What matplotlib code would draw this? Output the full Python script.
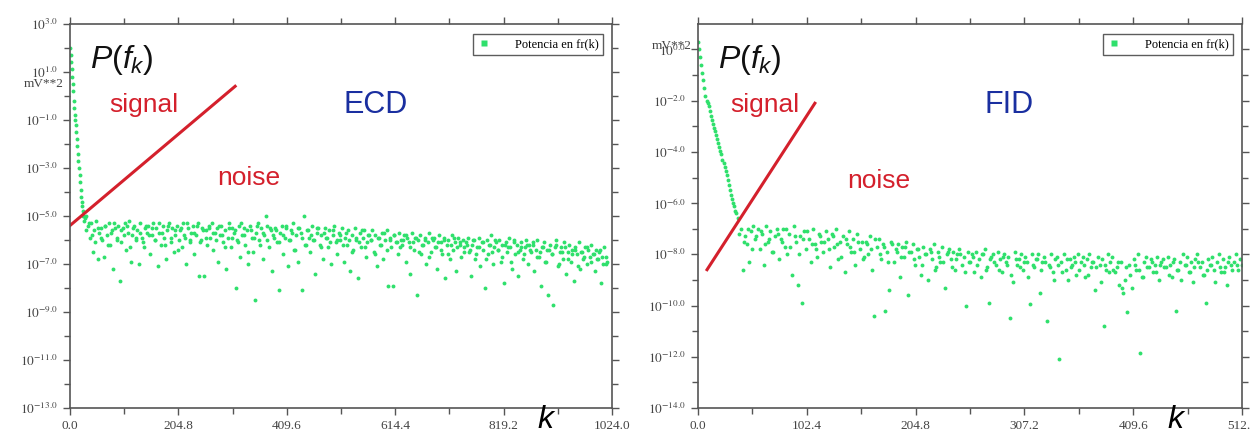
import numpy as np
import matplotlib
matplotlib.use('Agg')
from matplotlib import pyplot as plt
from matplotlib.ticker import FixedLocator, FixedFormatter
from matplotlib.lines import Line2D

plt.rcParams['mathtext.fontset'] = 'stix'
plt.rcParams['mathtext.it'] = 'Liberation Sans:italic'
plt.rcParams['mathtext.rm'] = 'Liberation Sans'

# ---------------------------------------------------------------
# Data (log10 of power, mV**2)
# ---------------------------------------------------------------
# ECD: steep decay near k=0, then noise band
ecd_decay_k = [0, 1, 2, 3, 4, 5, 6, 7, 8, 9, 10, 11, 12, 13, 14,
               15, 16, 17, 18, 19, 20, 21, 22, 23, 24, 25, 26]
ecd_decay_log = [2.0, 1.7, 1.4, 1.1, 0.8, 0.5, 0.2, -0.2, -0.5, -0.8,
                 -1.0, -1.2, -1.5, -1.8, -2.1, -2.4, -2.7, -3.0, -3.3,
                 -3.6, -3.9, -4.2, -4.4, -4.6, -4.8, -5.0, -5.2]
# band a: every 3rd k from 28
ecd_band_k0, ecd_band_step = 28, 3
ecd_band_log = [
    -5.1, -5.0, -5.4, -5.9, -5.3, -6.5, -5.6, -5.2, -6.8, -5.7, -5.5, -6.0, -6.7, -5.4, -5.8, -5.3, -6.2, -5.6, -7.2, -5.5,
    -5.9, -5.4, -7.7, -6.1, -5.5, -5.3, -6.4, -5.7, -5.2, -6.9, -5.8, -5.4, -6.0, -5.6, -7.0, -5.3, -5.9, -6.3, -5.5, -5.7,
    -5.4, -6.6, -5.8, -5.3, -6.0, -5.5, -7.1, -5.7, -6.2, -5.4, -5.9, -6.8, -5.6, -5.3, -6.1, -5.5, -6.5, -5.8, -5.4, -6.0,
    -5.6, -6.3, -5.3, -5.9, -7.0, -5.5, -6.1, -5.7, -5.4, -6.6, -5.8, -5.3, -7.5, -6.0, -5.5, -7.5, -5.6, -6.2, -5.4, -5.9,
    -5.3, -6.4, -5.7, -5.5, -6.9, -5.8, -5.4, -6.1, -5.6, -7.2, -5.9, -5.3, -6.3, -5.5, -5.7, -8.0, -6.0, -5.4, -6.7, -5.8,
    -5.5, -6.2, -5.6, -7.0, -5.4, -5.9, -6.5, -8.5, -5.7, -5.3, -6.0, -5.5, -6.8, -5.8, -5.0, -5.4, -6.3, -5.6, -7.3, -5.9,
    -5.5, -6.1, -8.1, -5.7, -5.4, -6.6, -5.9, -5.5, -7.1, -6.0, -5.6, -5.3, -6.4, -5.8, -6.9, -5.5, -5.7, -8.1, -5.0, -6.2,
    -5.6, -5.9, -6.5, -5.4, -6.0, -7.4, -5.7, -5.5, -6.2, -5.8, -6.8, -5.5, -5.9, -6.3, -5.6, -7.0, -5.8, -5.4, -6.1, -6.6,
    -5.7, -6.0, -5.5, -6.9, -5.9, -6.2, -5.6, -7.3, -5.8, -6.4, -5.5, -6.0, -7.6, -5.7, -6.3, -5.9, -5.6, -6.7, -6.1, -5.8,
    -6.0, -5.6, -6.5, -5.8, -7.1, -5.9, -6.2, -5.7, -6.8, -6.0, -5.6, -7.9, -5.9, -6.3, -7.9, -5.8, -6.1, -6.6, -5.7, -6.0,
    -6.2, -5.8, -6.9, -5.9, -6.1, -7.4, -5.7, -6.4, -5.9, -8.3, -6.0, -5.8, -6.6, -6.2, -5.9, -7.0, -6.1, -5.7, -6.5, -6.0,
    -5.9, -6.3, -7.2, -5.8, -6.1, -6.6, -5.9, -7.6, -6.2, -6.0, -6.8, -5.8, -6.4, -6.1, -7.3, -5.9, -6.2, -6.7, -6.0, -6.3,
    -6.1, -5.9, -6.5, -7.5, -6.2, -6.0, -6.8, -6.3, -5.9, -7.1, -6.1, -6.4, -8.0, -6.0, -6.6, -6.2, -5.8, -7.0, -6.3, -6.1,
    -6.4, -6.0, -6.9, -6.2, -7.8, -6.1, -6.5, -5.9, -6.3, -7.2, -6.0, -6.6, -6.2, -7.5, -6.4, -6.1, -6.8, -6.3, -6.0, -7.0,
    -6.2, -6.5, -6.1, -7.3, -6.4, -6.0, -6.7, -7.9, -6.3, -6.1, -6.9, -6.4, -8.3, -6.2, -6.6, -8.7, -6.3, -6.0, -7.1, -6.5,
    -6.3, -6.8, -6.1, -7.4, -6.5, -6.2, -6.9, -6.4, -7.7, -6.3, -6.6, -6.1, -7.2, -6.5, -6.8, -6.3, -7.0, -6.4, -6.7, -6.2,
    -6.6, -7.3, -6.4, -6.8, -6.5, -7.8, -6.7, -6.3, -7.0, -6.9,
]
# band b: every 6th k from 29.5 (dense core of the band)
ecd_band2_k0, ecd_band2_step = 29.5, 6
ecd_band2_log = [
    -5.6, -5.3, -5.8, -6.1, -5.5, -5.9, -5.4, -6.2, -5.7, -5.3, -6.0, -5.6, -5.8, -5.4, -6.3, -5.5, -5.9, -5.7, -6.1, -5.4,
    -5.8, -5.5, -6.0, -5.3, -5.7, -6.2, -5.4, -5.9, -5.6, -6.4, -5.5, -5.8, -5.3, -6.0, -5.7, -5.4, -6.1, -5.6, -5.9, -5.5,
    -5.7, -6.0, -5.4, -5.8, -6.3, -5.5, -5.9, -5.6, -6.1, -5.3, -5.8, -6.5, -5.6, -5.9, -5.4, -6.2, -5.7, -6.0, -5.5, -5.8,
    -5.6, -6.1, -5.8, -5.4, -6.0, -5.7, -6.4, -5.5, -5.9, -6.2, -5.6, -5.8, -6.0, -5.5, -6.3, -5.7, -5.9, -6.1, -5.6, -6.0,
    -5.8, -6.2, -5.7, -6.0, -6.5, -5.9, -6.1, -5.6, -6.3, -5.8, -6.0, -6.6, -5.9, -6.2, -5.7, -6.4, -6.0, -5.8, -6.1, -6.3,
    -6.0, -5.8, -6.3, -6.1, -5.9, -6.5, -6.2, -6.0, -6.7, -5.9, -6.3, -6.1, -6.4, -6.0, -6.6, -6.2, -5.9, -6.3, -6.1, -6.5,
    -6.2, -6.4, -6.0, -6.6, -6.3, -6.1, -6.8, -6.2, -6.5, -6.0, -6.4, -6.7, -6.2, -6.3, -6.9, -6.1, -6.5, -6.3, -6.6, -6.2,
    -6.4, -6.2, -6.7, -6.5, -6.3, -6.9, -6.4, -6.6, -6.2, -7.0, -6.5, -6.3, -6.8, -6.6, -6.4, -7.1, -6.5, -6.7, -6.3, -6.9,
    -6.6, -6.8, -6.4, -7.0, -6.7,
]

# FID: decay, then noise band
fid_decay_k = [0, 1, 2, 3, 4, 5, 6, 7, 8, 9, 10, 11, 12, 13, 14, 15, 16,
               17, 18, 19, 20, 21, 22, 23, 24, 25, 26, 27, 28, 29, 30,
               31, 32, 33, 34, 35, 36]
fid_decay_log = [0.3, 0.0, -0.3, -0.6, -0.9, -1.2, -1.5, -1.8, -2.0, -2.1,
                 -2.2, -2.4, -2.6, -2.75, -2.9, -3.05, -3.2, -3.35, -3.5,
                 -3.65, -3.8, -3.95, -4.1, -4.3, -4.45, -4.6, -4.75, -4.9,
                 -5.1, -5.3, -5.5, -5.7, -5.85, -6.0, -6.1, -6.3, -6.4]
# band a: every 2nd k from 38
fid_band_k0, fid_band_step = 38, 2
fid_band_log = [
    -6.6, -7.0, -8.6, -7.3, -7.6, -8.3, -7.1, -6.9, -7.4, -7.0, -7.8, -7.2, -8.4, -6.9, -7.5, -7.1, -7.9, -7.3, -7.0, -8.2,
    -7.4, -7.0, -7.7, -8.0, -7.2, -8.8, -6.9, -7.5, -9.2, -7.3, -9.9, -7.1, -7.8, -7.4, -8.3, -7.0, -7.6, -8.1, -7.2, -7.5,
    -7.9, -7.1, -7.4, -8.5, -7.2, -7.7, -7.0, -8.2, -7.5, -7.3, -8.7, -7.6, -7.1, -7.9, -7.4, -8.4, -7.2, -7.8, -7.5, -8.1,
    -7.5, -8.0, -7.3, -8.6, -10.4, -7.7, -7.4, -8.2, -7.6, -10.2, -7.9, -9.4, -7.5, -8.3, -7.8, -7.6, -8.9, -7.7, -8.1, -7.5,
    -9.6, -7.9, -7.6, -8.4, -7.8, -8.1, -8.8, -7.7, -8.0, -9.0, -7.8, -8.2, -7.6, -8.5, -7.9, -8.3, -7.7, -9.3, -8.0, -7.8,
    -8.2, -7.9, -8.6, -8.0, -7.8, -8.4, -8.1, -10.0, -7.9, -8.3, -8.0, -8.7, -7.9, -8.2, -8.9, -8.0, -7.8, -8.5, -9.9, -8.1,
    -8.0, -8.4, -7.9, -8.2, -8.7, -8.0, -8.3, -8.1, -10.5, -9.1, -7.9, -8.4, -8.2, -8.0, -8.6, -8.1, -8.3, -9.95, -8.0, -8.5,
    -8.2, -8.0, -9.5, -8.3, -8.1, -10.6, -8.4, -8.0, -8.7, -8.2, -8.1, -12.1, -8.3, -8.0, -8.6, -9.0, -8.2, -8.4, -8.1, -8.8,
    -8.0, -8.3, -8.1, -8.9, -8.2, -8.0, -8.5, -8.3, -9.4, -8.1, -8.4, -8.2, -10.8, -8.6, -8.0, -8.3, -8.1, -8.7, -8.5, -9.2,
    -8.3, -9.5, -9.0, -10.25, -8.4, -9.3, -8.2, -8.6, -8.0, -11.85, -8.9, -8.3, -8.1, -8.5, -8.2, -8.7, -8.4, -8.1, -9.0, -8.3,
    -8.2, -8.5, -8.1, -8.4, -8.9, -8.2, -10.2, -8.6, -8.3, -8.0, -8.4, -8.1, -8.7, -8.3, -9.1, -8.2, -8.0, -8.5, -8.3, -8.8,
    -9.9, -8.2, -8.4, -8.1, -8.6, -8.3, -8.0, -8.7, -8.2, -8.5, -9.2, -8.1, -8.4, -8.3, -8.0, -8.6, -8.2, -8.4,
]
# band b: every 4th k from 39
fid_band2_k0, fid_band2_step = 39, 4
fid_band2_log = [
    -7.2, -7.5, -7.0, -7.8, -7.3, -7.1, -7.6, -7.4, -7.9, -7.2, -7.5, -7.0, -7.7, -7.3, -8.0, -7.4, -7.1, -7.6, -7.8, -7.3,
    -7.5, -7.8, -7.3, -7.6, -8.1, -7.4, -7.7, -7.9, -7.5, -8.2, -7.6, -7.8, -7.4, -8.0, -7.7, -8.3, -7.6, -7.9, -8.1, -7.7,
    -7.9, -8.2, -7.8, -8.4, -8.0, -7.9, -8.6, -8.1, -8.3, -7.9, -8.5, -8.2, -8.0, -8.7, -8.3, -8.1, -8.4, -8.0, -8.6, -8.2,
    -8.3, -8.6, -8.1, -8.4, -8.8, -8.2, -8.5, -8.3, -8.9, -8.4, -8.2, -8.6, -8.3, -8.5, -9.0, -8.4, -8.7, -8.2, -8.5, -8.3,
    -8.6, -8.4, -8.8, -8.3, -8.5, -9.1, -8.4, -8.7, -8.6, -8.3, -9.3, -8.5, -8.8, -8.4, -8.6, -8.9, -8.5, -8.3, -8.7, -8.4,
    -8.5, -8.8, -8.3, -8.6, -9.0, -8.4, -8.7, -8.5, -8.3, -8.8, -8.6, -8.4, -9.1, -8.5, -8.7, -8.3, -8.6, -8.4,
]

# hand-drawn "signal / noise" separating lines (k, log10 P)
ecd_line_k = [0, 312]
ecd_line_log = [-5.4, 0.4]
fid_line_k = [8.5, 110]
fid_line_log = [-8.6, -2.1]

ecd_xticks = [0.0, 204.8, 409.6, 614.4, 819.2, 1024.0]
fid_xticks = [0.0, 102.4, 204.8, 307.2, 409.6, 512.0]
ecd_ylog = [3, 1, -1, -3, -5, -7, -9, -11, -13]
fid_ylog = [0, -2, -4, -6, -8, -10, -12, -14]

green = '#2fe06c'
red = '#d4202c'
blue = '#1a2fa0'
axcol = '#555555'
serif = 'Liberation Serif'
sans = 'Liberation Sans'


def build(dk, dlog, bands):
    ks = [np.array(dk, float)]
    ls = [np.array(dlog, float)]
    for k0, step, vals in bands:
        ks.append(k0 + step * np.arange(len(vals)))
        ls.append(np.array(vals, float))
    return np.concatenate(ks), 10.0 ** np.concatenate(ls)


def style_axes(ax, xt, xmax, ylog, ymin, ymax):
    ax.set_yscale('log')
    ax.set_xlim(0, xmax)
    ax.set_ylim(10.0 ** ymin, 10.0 ** ymax)
    ax.xaxis.set_major_locator(FixedLocator(xt))
    ax.xaxis.set_major_formatter(FixedFormatter(['%.1f' % v for v in xt]))
    mids = [(a + b) / 2 for a, b in zip(xt[:-1], xt[1:])]
    ax.xaxis.set_minor_locator(FixedLocator(mids))
    maj = [10.0 ** e for e in ylog]
    ax.yaxis.set_major_locator(FixedLocator(maj))
    ax.yaxis.set_major_formatter(FixedFormatter([r'$10^{%.1f}$' % e for e in ylog]))
    mn = [10.0 ** (e - 1) for e in ylog if ymin < e - 1 < ymax]
    ax.yaxis.set_minor_locator(FixedLocator(mn))
    ax.yaxis.set_minor_formatter(FixedFormatter([]))
    ax.tick_params(which='both', direction='out', top=True, right=True,
                   color=axcol, labelcolor='#444444', labelsize=9.5, width=1)
    ax.tick_params(which='major', length=5)
    ax.tick_params(which='minor', length=4)
    for lab in ax.get_xticklabels() + ax.get_yticklabels():
        lab.set_fontfamily(serif)
    for s in ax.spines.values():
        s.set_color(axcol)
        s.set_linewidth(1.2)


fig = plt.figure(figsize=(12.5, 4.34), dpi=100)
ax1 = fig.add_axes([0.056, 0.06, 0.4336, 0.885])
ax2 = fig.add_axes([0.5584, 0.06, 0.4352, 0.885])

# ECD
k, p = build(ecd_decay_k, ecd_decay_log,
             [(ecd_band_k0, ecd_band_step, ecd_band_log),
              (ecd_band2_k0, ecd_band2_step, ecd_band2_log)])
ax1.plot(k, p, 'o', color=green, ms=2.8, mec='none')
ax1.plot(ecd_line_k, 10.0 ** np.array(ecd_line_log), color=red, lw=2.2)
style_axes(ax1, ecd_xticks, 1024, ecd_ylog, -13, 3)

# FID
k, p = build(fid_decay_k, fid_decay_log,
             [(fid_band_k0, fid_band_step, fid_band_log),
              (fid_band2_k0, fid_band2_step, fid_band2_log)])
ax2.plot(k, p, 'o', color=green, ms=2.8, mec='none')
ax2.plot(fid_line_k, 10.0 ** np.array(fid_line_log), color=red, lw=2.2)
style_axes(ax2, fid_xticks, 512, fid_ylog, -14, 1)

panels = [(ax1, 'ECD', 0.072, (0.272, 0.60), 0.505),
          (ax2, 'FID', 0.06, (0.275, 0.59), 0.527)]
for ax, name, sx, (nx, ny), namex in panels:
    h = Line2D([], [], marker='s', ls='none', color=green, ms=5, mec='none')
    leg = ax.legend([h], ['Potencia en fr(k)'], loc='upper right',
                    bbox_to_anchor=(0.995, 0.99),
                    prop={'family': serif, 'size': 9}, frameon=True,
                    fancybox=False, handlelength=1.0,
                    borderpad=0.35, handletextpad=2.0)
    leg.get_frame().set_edgecolor('#333333')
    leg.get_frame().set_linewidth(1)
    ax.text(0.036, 0.905, r'$\mathit{P(f_k)}$', transform=ax.transAxes,
            fontsize=23, math_fontfamily='custom', color='#111111', va='center')
    ax.text(sx, 0.79, 'signal', transform=ax.transAxes, color=red,
            fontsize=19, family=sans, va='center')
    ax.text(nx, ny, 'noise', transform=ax.transAxes, color=red,
            fontsize=19, family=sans, va='center')
    ax.text(namex, 0.79, name, transform=ax.transAxes, color=blue,
            fontsize=22, family=sans, va='center')
    ax.text(0.877, -0.032, 'k', transform=ax.transAxes, fontsize=23,
            style='italic', family=sans, va='center', ha='center')

# units under/over the y tick labels
ax1.text(-0.012, 10.0 ** 0.5, 'mV**2', transform=ax1.get_yaxis_transform(),
         ha='right', va='center', family=serif, fontsize=9.5, color='#444444')
ax2.text(-0.012, 10.0 ** 0.15, 'mV**2', transform=ax2.get_yaxis_transform(),
         ha='right', va='center', family=serif, fontsize=9.5, color='#444444')

fig.savefig('out.png', dpi=100)
